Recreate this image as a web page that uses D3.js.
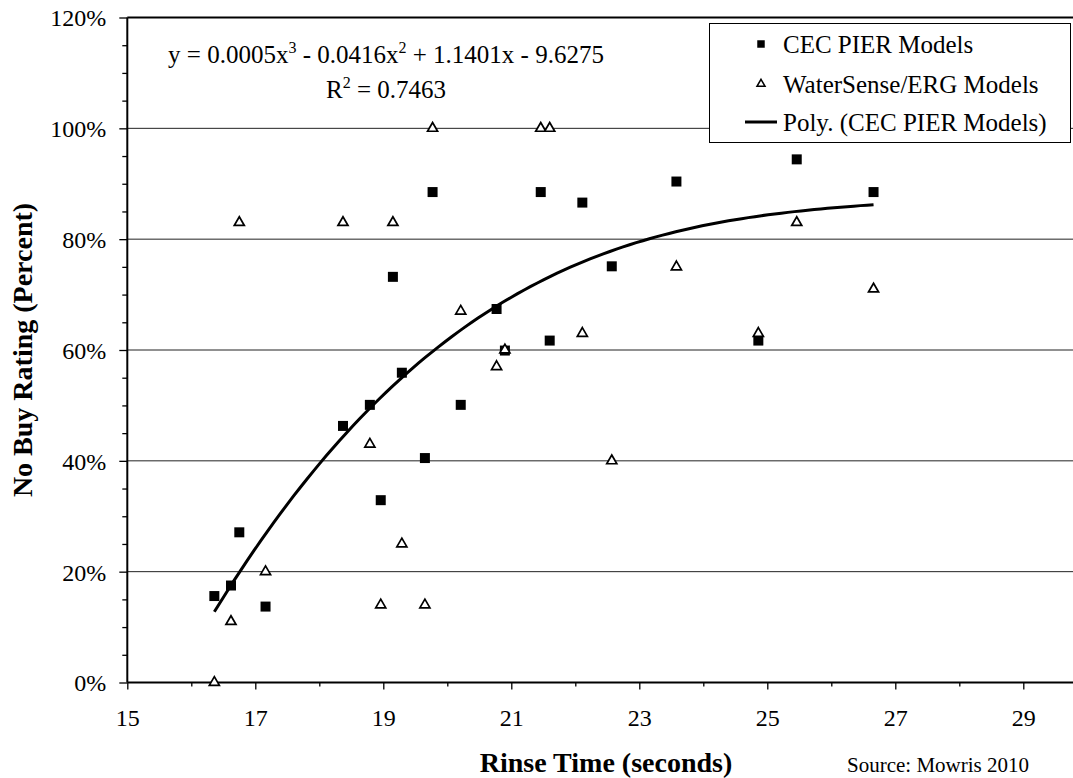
<!DOCTYPE html>
<html>
<head>
<meta charset="utf-8">
<script src="https://cdn.jsdelivr.net/npm/d3@7"></script>
<style>
  body { margin: 0; background: #fff; }
  svg { display: block; font-family: "Liberation Serif", "Times New Roman", serif; }
</style>
</head>
<body>
<script>
// Rinse time (seconds) for each model, and the two no-buy ratings
const rinseTime = [16.36, 16.62, 16.75, 17.16, 18.37, 18.79, 18.96, 19.15, 19.29, 19.65, 19.77,
                   20.21, 20.77, 20.90, 21.46, 21.60, 22.11, 22.57, 23.58, 24.86, 25.46, 26.66];
const cecPier = [0.156, 0.175, 0.271, 0.137, 0.463, 0.501, 0.329, 0.732, 0.559, 0.405, 0.885,
                 0.501, 0.674, 0.599, 0.885, 0.617, 0.866, 0.751, 0.904, 0.617, 0.944, 0.885];
const waterSense = [0.00, 0.11, 0.83, 0.20, 0.83, 0.43, 0.14, 0.83, 0.25, 0.14, 1.00,
                    0.67, 0.57, 0.60, 1.00, 1.00, 0.63, 0.40, 0.75, 0.63, 0.83, 0.71];
const xTickLabels = [15, 17, 19, 21, 23, 25, 27, 29];
const yTickLabels = [0, 0.2, 0.4, 0.6, 0.8, 1.0, 1.2];
const seriesNames = ["CEC PIER Models", "WaterSense/ERG Models", "Poly. (CEC PIER Models)"];

const width = 1073, height = 778;
const svg = d3.select("body").append("svg")
    .attr("width", width)
    .attr("height", height);

// scales
const x = d3.scaleLinear().domain([15, 30]).range([127.3, 1087.3]);
const y = d3.scaleLinear().domain([0, 1.2]).range([682.5, 17.5]);

// gridlines
svg.append("g")
    .selectAll("line")
    .data(yTickLabels.filter(d => d > 0 && d < 1.2))
    .join("line")
    .attr("x1", x(15)).attr("x2", width)
    .attr("y1", d => y(d)).attr("y2", d => y(d))
    .attr("stroke", "#222").attr("stroke-width", 1);

// top border of plot area
svg.append("line")
    .attr("x1", x(15)).attr("x2", width)
    .attr("y1", y(1.2)).attr("y2", y(1.2))
    .attr("stroke", "#000").attr("stroke-width", 2);

// x axis: a tick every second, labels on odd seconds
const xAxis = svg.append("g")
    .attr("transform", `translate(0,${y(0)})`)
    .call(d3.axisBottom(x)
        .tickValues(d3.range(15, 31))
        .tickSize(7)
        .tickFormat(d => xTickLabels.includes(d) ? d : ""));
xAxis.select(".domain").attr("stroke-width", 2).attr("d", `M${x(15)},0H${width}`);
xAxis.selectAll(".tick line")
    .attr("stroke-width", 1.3)
    .attr("y2", d => xTickLabels.includes(d) ? 7 : 4);
xAxis.selectAll(".tick text")
    .attr("y", 0).attr("dy", 0)
    .attr("transform", "translate(0,43.5)")
    .style("font-family", "Liberation Serif, Times New Roman, serif")
    .style("font-size", "24px")
    .attr("fill", "#000");

// y axis: minor ticks every 5%, labels every 20%
const isMajor = d => yTickLabels.some(v => Math.abs(v - d) < 1e-6);
const yAxis = svg.append("g")
    .attr("transform", `translate(${x(15)},0)`)
    .call(d3.axisLeft(y)
        .tickValues(d3.range(0, 25).map(i => i * 0.05))
        .tickSize(8)
        .tickFormat(d => isMajor(d) ? d3.format(".0%")(d) : ""));
yAxis.select(".domain").attr("stroke-width", 2).attr("d", `M0,${y(1.2)}V${y(0)}`);
yAxis.selectAll(".tick line")
    .attr("stroke-width", 1.3)
    .attr("x2", d => isMajor(d) ? -8 : -5);
yAxis.selectAll(".tick text")
    .attr("x", -21).attr("dy", "0.35em")
    .style("font-family", "Liberation Serif, Times New Roman, serif")
    .style("font-size", "24px")
    .attr("fill", "#000");

// axis titles
svg.append("text")
    .attr("x", 606).attr("y", 772)
    .attr("text-anchor", "middle")
    .style("font-size", "28px").style("font-weight", "bold")
    .text("Rinse Time (seconds)");
svg.append("text")
    .attr("transform", "translate(32,350) rotate(-90)")
    .attr("text-anchor", "middle")
    .style("font-size", "28px").style("font-weight", "bold")
    .text("No Buy Rating (Percent)");
svg.append("text")
    .attr("x", 847).attr("y", 772)
    .style("font-size", "21px")
    .text("Source: Mowris 2010");

// cubic least squares fit of the CEC PIER series (the trendline)
function polyFit(xs, ys, order) {
    const n = order + 1;
    const A = d3.range(n).map(() => new Array(n + 1).fill(0));
    xs.forEach((xi, k) => {
        for (let i = 0; i < n; i++) {
            for (let j = 0; j < n; j++) A[i][j] += Math.pow(xi, i + j);
            A[i][n] += ys[k] * Math.pow(xi, i);
        }
    });
    for (let c = 0; c < n; c++) {
        let p = c;
        for (let r = c + 1; r < n; r++) if (Math.abs(A[r][c]) > Math.abs(A[p][c])) p = r;
        [A[c], A[p]] = [A[p], A[c]];
        for (let r = 0; r < n; r++) {
            if (r === c) continue;
            const f = A[r][c] / A[c][c];
            for (let k = c; k <= n; k++) A[r][k] -= f * A[c][k];
        }
    }
    return d3.range(n).map(i => A[i][n] / A[i][i]);
}
const coef = polyFit(rinseTime, cecPier, 3);
const fitAt = t => coef.reduce((s, c, i) => s + c * Math.pow(t, i), 0);
const [xMin, xMax] = d3.extent(rinseTime);
const curve = d3.range(0, 101).map(i => xMin + (xMax - xMin) * i / 100);

// markers: squares first, then triangles on top
const points = rinseTime.map((t, i) => ({ t, cec: cecPier[i], ws: waterSense[i] }));
svg.append("g")
    .selectAll("path")
    .data(points)
    .join("path")
    .attr("transform", d => `translate(${x(d.t)},${y(d.cec)})`)
    .attr("d", d3.symbol(d3.symbolSquare, 100))
    .attr("fill", "#000");
svg.append("g")
    .selectAll("path")
    .data(points)
    .join("path")
    .attr("transform", d => `translate(${x(d.t)},${y(d.ws)})`)
    .attr("d", d3.symbol(d3.symbolTriangle, 44))
    .attr("fill", "#fff")
    .attr("stroke", "#000")
    .attr("stroke-width", 1.7);

svg.append("path")
    .datum(curve)
    .attr("fill", "none")
    .attr("stroke", "#000")
    .attr("stroke-width", 3)
    .attr("d", d3.line().x(d => x(d)).y(d => y(fitAt(d))));

// equation label
const eq = svg.append("text")
    .attr("x", 386).attr("y", 63)
    .attr("text-anchor", "middle")
    .style("font-size", "25px");
eq.append("tspan").text("y = 0.0005x");
eq.append("tspan").attr("dy", -10).style("font-size", "16px").text("3");
eq.append("tspan").attr("dy", 10).text(" - 0.0416x");
eq.append("tspan").attr("dy", -10).style("font-size", "16px").text("2");
eq.append("tspan").attr("dy", 10).text(" + 1.1401x - 9.6275");
const r2 = svg.append("text")
    .attr("x", 386).attr("y", 98)
    .attr("text-anchor", "middle")
    .style("font-size", "25px");
r2.append("tspan").text("R");
r2.append("tspan").attr("dy", -10).style("font-size", "16px").text("2");
r2.append("tspan").attr("dy", 10).text(" = 0.7463");

// legend
const legend = svg.append("g");
legend.append("rect")
    .attr("x", 709.5).attr("y", 23.5)
    .attr("width", 361).attr("height", 119)
    .attr("fill", "#fff").attr("stroke", "#000").attr("stroke-width", 1);
const rowY = [44, 84, 122];
legend.append("path")
    .attr("transform", `translate(761,${rowY[0]})`)
    .attr("d", d3.symbol(d3.symbolSquare, 56))
    .attr("fill", "#000");
legend.append("path")
    .attr("transform", `translate(761,${rowY[1]})`)
    .attr("d", d3.symbol(d3.symbolTriangle, 28))
    .attr("fill", "#fff").attr("stroke", "#000").attr("stroke-width", 1.5);
legend.append("line")
    .attr("x1", 745).attr("x2", 777)
    .attr("y1", rowY[2]).attr("y2", rowY[2])
    .attr("stroke", "#000").attr("stroke-width", 3);
legend.selectAll("text.item")
    .data(seriesNames)
    .join("text")
    .attr("class", "item")
    .attr("x", 783)
    .attr("y", (d, i) => rowY[i] + 8.5)
    .style("font-size", "25px")
    .text(d => d);
</script>
</body>
</html>
